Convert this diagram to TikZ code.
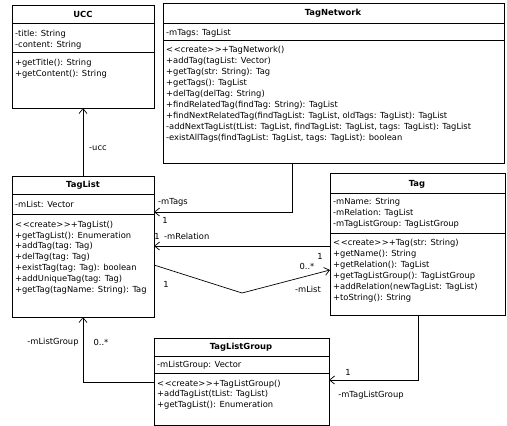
\documentclass[tikz,border=0pt]{standalone}
\usepackage{fontspec}
\setmainfont{DejaVu Sans}
\usetikzlibrary{arrows.meta,calc}
\newcommand\umlrows[5]{%
  \foreach \s [count=\i] in {#5}
    \node[txt] (#1\i) at (#2, {#3+3.1+(\i-1)*#4}) {\s};}
\newcommand\cre{<\kern0.6pt<create>\kern0.6pt>}
\tikzset{
  cls/.style={draw, line width=0.7pt, inner sep=0pt, outer sep=0pt, anchor=north west},
  sep/.style={line width=0.7pt},
  ttl/.style={font=\bfseries\fontsize{8.4}{10}\selectfont, inner sep=0pt, anchor=center},
  txt/.style={font=\fontsize{8.35}{10}\selectfont, inner sep=0pt, anchor=base west},
  lbl/.style={font=\fontsize{8.35}{10}\selectfont, inner sep=0pt},
  assoc/.style={line width=0.7pt, -{Straight Barb[length=5pt,width=8pt]}}
}
\begin{document}
\begin{tikzpicture}[x=1pt,y=-1pt]
\fill[white] (0,0) rectangle (507,426);
\useasboundingbox (0,0) rectangle (507,426);

% ---------- UCC ----------
\node[cls, minimum width=142pt, minimum height=103pt] (ucc) at (12,5) {};
\draw[sep] ($(ucc.north west)+(0,18)$) -- ($(ucc.north east)+(0,18)$);
\draw[sep] ($(ucc.north west)+(0,47)$) -- ($(ucc.north east)+(0,47)$);
\node[ttl] (ucct) at (83,14) {UCC};
\umlrows{ucca}{15}{33}{11}{{-title: String},{-content: String}}
\umlrows{uccm}{15}{62}{11}{{+getTitle(): String},{+getContent(): String}}

% ---------- TagNetwork ----------
\node[cls, minimum width=341pt, minimum height=160pt] (tn) at (163,3) {};
\draw[sep] ($(tn.north west)+(0,20)$) -- ($(tn.north east)+(0,20)$);
\draw[sep] ($(tn.north west)+(0,37)$) -- ($(tn.north east)+(0,37)$);
\node[ttl] (tnt) at (333,13) {TagNetwork};
\umlrows{tna}{166}{32}{11}{{-mTags: TagList}}
\umlrows{tnm}{166}{49}{11}{{\cre+TagNetwork()},{+addTag(tagList: Vector)},{+getTag(str: String): Tag},{+getTags(): TagList},{+delTag(delTag: String)},{+findRelatedTag(findTag: String): TagList},{+findNextRelatedTag(findTagList: TagList, oldTags: TagList): TagList},{-addNextTagList(tList: TagList, findTagList: TagList, tags: TagList): TagList},{-existAllTags(findTagList: TagList, tags: TagList): boolean}}

% ---------- TagList ----------
\node[cls, minimum width=142pt, minimum height=141pt] (tl) at (12,176) {};
\draw[sep] ($(tl.north west)+(0,18)$) -- ($(tl.north east)+(0,18)$);
\draw[sep] ($(tl.north west)+(0,38)$) -- ($(tl.north east)+(0,38)$);
\node[ttl] (tlt) at (83,185) {TagList};
\umlrows{tla}{15}{204}{11}{{-mList: Vector}}
\umlrows{tlm}{15}{224}{10.9}{{\cre+TagList()},{+getTagList(): Enumeration},{+addTag(tag: Tag)},{+delTag(tag: Tag)},{+existTag(tag: Tag): boolean},{+addUniqueTag(tag: Tag)},{+getTag(tagName: String): Tag}}

% ---------- Tag ----------
\node[cls, minimum width=175pt, minimum height=142pt] (tag) at (330,173) {};
\draw[sep] ($(tag.north west)+(0,20)$) -- ($(tag.north east)+(0,20)$);
\draw[sep] ($(tag.north west)+(0,60)$) -- ($(tag.north east)+(0,60)$);
\node[ttl] (tagt) at (417,184) {Tag};
\umlrows{taga}{333}{201}{11}{{-mName: String},{-mRelation: TagList},{-mTagListGroup: TagListGroup}}
\umlrows{tagm}{333}{242}{11}{{\cre+Tag(str: String)},{+getName(): String},{+getRelation(): TagList},{+getTagListGroup(): TagListGroup},{+addRelation(newTagList: TagList)},{+toString(): String}}

% ---------- TagListGroup ----------
\node[cls, minimum width=175pt, minimum height=87pt] (tlg) at (154,338) {};
\draw[sep] ($(tlg.north west)+(0,18)$) -- ($(tlg.north east)+(0,18)$);
\draw[sep] ($(tlg.north west)+(0,35)$) -- ($(tlg.north east)+(0,35)$);
\node[ttl] (tlgt) at (241,347) {TagListGroup};
\umlrows{tlga}{157}{364}{11}{{-mListGroup: Vector}}
\umlrows{tlgm}{157}{383}{10.5}{{\cre+TagListGroup()},{+addTagList(tList: TagList)},{+getTagList(): Enumeration}}

% ---------- connectors ----------
\draw[assoc] (tl.north) -- (ucc.south);
\node[lbl, anchor=west] (l-ucc) at (89,148) {-ucc};

\draw[assoc] ($(tn.south west)+(129,0)$) |- ($(tl.north east)+(0,36)$);
\node[lbl, anchor=west] (l-mtags) at (158,202) {-mTags};
\node[lbl] (l-mtags1) at (165,220) {1};

\draw[assoc] ($(tag.north west)+(0,73)$) -- ($(tl.north east)+(0,70)$);
\node[lbl] (l-mrel1) at (157,236) {1};
\node[lbl, anchor=west] (l-mrel) at (164,236) {-mRelation};

\coordinate (mlbend) at (242,293);
\draw[line width=0.7pt] ($(tl.north east)+(0,89)$) -- (mlbend);
\draw[assoc] (mlbend) -- ($(tag.north west)+(0,97)$);
\node[lbl] (l-mlist1) at (166,284) {1};
\node[lbl] (l-mlist2) at (320,256) {1};
\node[lbl] (l-mlist3) at (307,266) {0..*};
\node[lbl] (l-mlist) at (308,289) {-mList};

\draw[assoc] ($(tlg.north west)+(0,44)$) -| (tl.south);
\node[lbl] (l-mlg) at (53,342) {-mListGroup};
\node[lbl] (l-mlg2) at (101,342) {0..*};

\draw[assoc] ($(tag.south west)+(88,0)$) |- ($(tlg.north east)+(0,42)$);
\node[lbl] (l-mtlg1) at (348,372) {1};
\node[lbl] (l-mtlg) at (371,395) {-mTagListGroup};
\end{tikzpicture}
\end{document}
